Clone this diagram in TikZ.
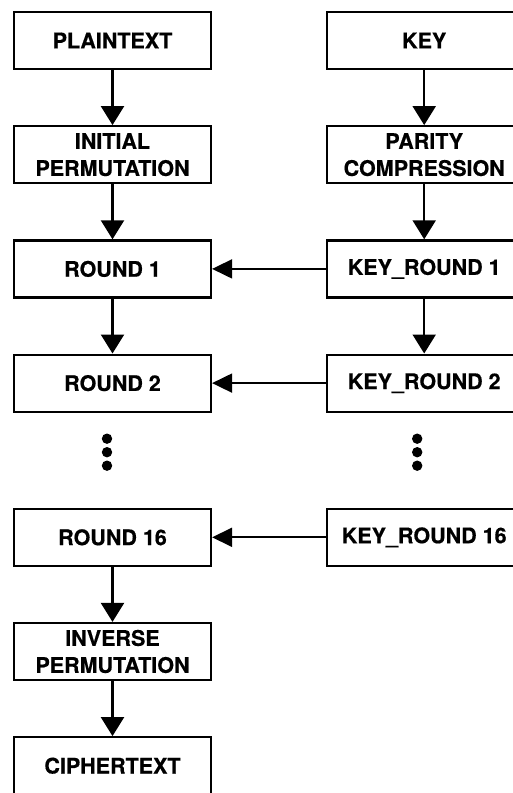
\documentclass[tikz,border=0pt]{standalone}
\usepackage{fontspec}
\setmainfont{TeX Gyre Heros}[BoldFeatures={FakeBold=0.5}]
\usetikzlibrary{arrows.meta,positioning,calc}
\tikzset{
  stage/.style={draw, line width=2.2pt, align=center, minimum width=197pt, minimum height=57pt, inner xsep=2pt, inner ysep=0pt, font=\fontsize{21.5pt}{27pt}\selectfont\bfseries},
  keystage/.style={stage, minimum width=194pt},
  arrow/.style={-{Triangle[length=19pt,width=23pt]}, line width=2.2pt},
  keyarrow/.style={-{Triangle[length=20pt,width=19pt]}, line width=1.8pt}
}

\begin{document}
\begin{tikzpicture}[x=1pt, y=-1pt, node distance=55pt and 114pt]
  \useasboundingbox (0,0) rectangle (513,793);
  \clip (0,0) rectangle (513,793);

  % data path
  \node[stage] (plain) at (112.5,40.5) {PLAINTEXT};
  \node[stage, below=of plain] (ip) {INITIAL\\PERMUTATION};
  \node[stage, below=of ip] (r1) {ROUND 1};
  \node[stage, below=of r1] (r2) {ROUND 2};
  \node[stage, below=95pt of r2] (r16) {ROUND 16};
  \node[stage, below=of r16] (fp) {INVERSE\\PERMUTATION};
  \node[stage, below=of fp] (cipher) {CIPHERTEXT};

  % key schedule
  \node[keystage, right=of plain] (key) {KEY};
  \node[keystage, below=of key] (pc) {PARITY\\COMPRESSION};
  \node[keystage, below=of pc] (k1) {KEY\_ROUND 1};
  \node[keystage, below=of k1] (k2) {KEY\_ROUND 2};
  \node[keystage, below=95pt of k2] (k16) {KEY\_ROUND 16};

  \draw[arrow] (plain) -- (ip);
  \draw[arrow] (ip) -- (r1);
  \draw[arrow] (r1) -- (r2);
  \draw[arrow] (r16) -- (fp);
  \draw[arrow] (fp) -- (cipher);

  \draw[arrow] (key) -- (pc);
  \draw[arrow] (pc) -- (k1);
  \draw[arrow] (k1) -- (k2);

  \draw[keyarrow] (k1) -- (r1);
  \draw[keyarrow] (k2) -- (r2);
  \draw[keyarrow] (k16) -- (r16);

  % ellipsis dots
  \foreach \i in {0,1,2} {
    \fill ($(r2.south)+(-5.5,26+13.5*\i)$) circle (5.2pt);
    \fill ($(k2.south)+(-7,26+13.5*\i)$) circle (5.2pt);
  }
\end{tikzpicture}
\end{document}
